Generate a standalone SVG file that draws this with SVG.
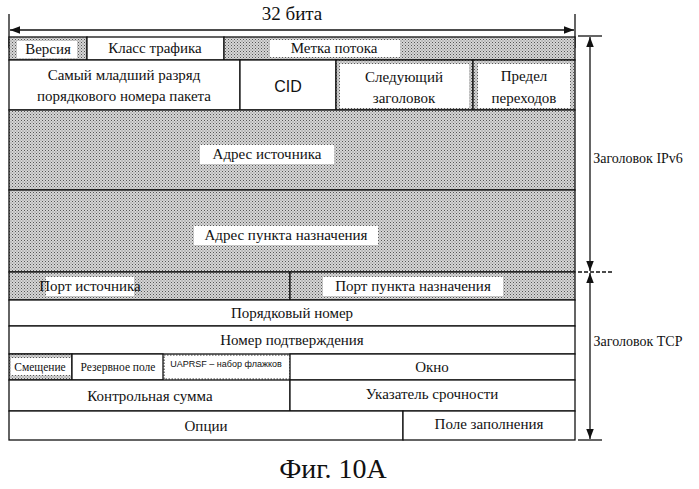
<svg xmlns="http://www.w3.org/2000/svg" width="699" height="489" viewBox="0 0 699 489">
<style>
text{font-family:"Liberation Serif",serif;font-size:15px;fill:#111;text-anchor:middle}
.c{fill:#fff;stroke:#111;stroke-width:1.3}
.s{fill:url(#dots);stroke:#111;stroke-width:1.3}
.l{stroke:#111;stroke-width:1.3;fill:none}
.w{fill:#fff}
</style>
<defs>
<pattern id="dots" width="3" height="3" patternUnits="userSpaceOnUse">
<rect width="3" height="3" fill="#d6d6d6"/>
<rect width="1" height="1" fill="#555"/>
<rect x="1.5" y="1.5" width="1" height="1" fill="#777"/>
</pattern>
<marker id="a" markerWidth="8" markerHeight="6" refX="8" refY="3" orient="auto-start-reverse"><path d="M0,0L8,3L0,6z" fill="#111"/></marker>
</defs>
<g id="dims">
<line class="l" x1="9" y1="14" x2="9" y2="48"/><line class="l" x1="575" y1="14" x2="575" y2="48"/>
<line class="l" x1="10" y1="30" x2="574" y2="30" marker-start="url(#a)" marker-end="url(#a)"/>
<text x="292" y="20" style="font-size:19px">32 бита</text>
<line class="l" x1="578" y1="36" x2="602" y2="36"/>
<line class="l" x1="578" y1="272" x2="612" y2="272" stroke-dasharray="4 2"/>
<line class="l" x1="578" y1="440" x2="602" y2="440"/>
<line class="l" x1="590" y1="37" x2="590" y2="271" marker-start="url(#a)" marker-end="url(#a)"/>
<line class="l" x1="590" y1="273" x2="590" y2="439" marker-start="url(#a)" marker-end="url(#a)"/>
<text x="638" y="163" style="font-size:14px">Заголовок IPv6</text>
<text x="638" y="346" style="font-size:14px">Заголовок TCP</text>
</g>
<g id="row1">
<rect class="s" x="9" y="37" width="78" height="23"/><rect class="w" x="17" y="41" width="60" height="17"/><text x="48" y="54">Версия</text>
<rect class="c" x="87" y="37" width="137" height="23"/><text x="155" y="53">Класс трафика</text>
<rect class="s" x="224" y="37" width="351" height="23"/><rect class="w" x="270" y="40" width="130" height="17"/><text x="334" y="53">Метка потока</text>
</g>
<g id="row2">
<rect class="c" x="9" y="60" width="231" height="50"/><text x="124" y="80">Самый младший разряд</text><text x="124" y="101">порядкового номера пакета</text>
<rect class="c" x="240" y="60" width="96" height="50"/><text x="288" y="92" style="font-family:'Liberation Sans',sans-serif;font-size:16px">CID</text>
<rect class="s" x="336" y="60" width="137" height="50"/><rect class="w" x="340" y="64" width="129" height="44"/><text x="404" y="82">Следующий</text><text x="404" y="103">заголовок</text>
<rect class="s" x="473" y="60" width="102" height="50"/><rect class="w" x="478" y="64" width="92" height="44"/><text x="524" y="81">Предел</text><text x="524" y="103">переходов</text>
</g>
<g id="row3"><rect class="s" x="9" y="110" width="566" height="80"/><rect class="w" x="200" y="145" width="134" height="19"/><text x="267" y="159">Адрес источника</text></g>
<g id="row4"><rect class="s" x="9" y="190" width="566" height="82"/><rect class="w" x="194" y="226" width="184" height="19"/><text x="286" y="240">Адрес пункта назначения</text></g>
<g id="row5">
<rect class="s" x="9" y="272" width="281" height="28"/><rect class="w" x="46" y="277" width="88" height="19"/><text x="90" y="291">Порт источника</text>
<rect class="s" x="290" y="272" width="285" height="28"/><rect class="w" x="323" y="277" width="180" height="19"/><text x="413" y="291">Порт пункта назначения</text>
</g>
<g id="row6"><rect class="c" x="9" y="300" width="566" height="26"/><text x="292" y="318">Порядковый номер</text></g>
<g id="row7"><rect class="c" x="9" y="326" width="566" height="28"/><text x="292" y="345">Номер подтверждения</text></g>
<g id="row8">
<rect class="s" x="9" y="354" width="63" height="26"/><rect class="w" x="11" y="358" width="60" height="17"/><text x="40" y="371" style="font-size:11.5px">Смещение</text>
<rect class="c" x="72" y="354" width="91" height="26"/><text x="118" y="371" style="font-size:11.5px">Резервное поле</text>
<rect x="164" y="355" width="126" height="24" fill="#fff" stroke="#333" stroke-width="1.2" stroke-dasharray="1.5 1.5"/><text x="226" y="367" style="font-size:9px;font-family:'Liberation Sans',sans-serif">UAPRSF – набор флажков</text>
<rect class="c" x="290" y="354" width="285" height="26"/><text x="432" y="372">Окно</text>
</g>
<g id="row9">
<rect class="c" x="9" y="380" width="281" height="31"/><text x="150" y="401">Контрольная сумма</text>
<rect class="c" x="290" y="380" width="285" height="31"/><text x="432" y="399">Указатель срочности</text>
</g>
<g id="row10">
<rect class="c" x="9" y="411" width="394" height="29"/><text x="206" y="431">Опции</text>
<rect class="c" x="403" y="411" width="172" height="29"/><text x="489" y="429">Поле заполнения</text>
</g>
<text x="333" y="478" style="font-size:28px">Фиг. 10А</text>
</svg>
